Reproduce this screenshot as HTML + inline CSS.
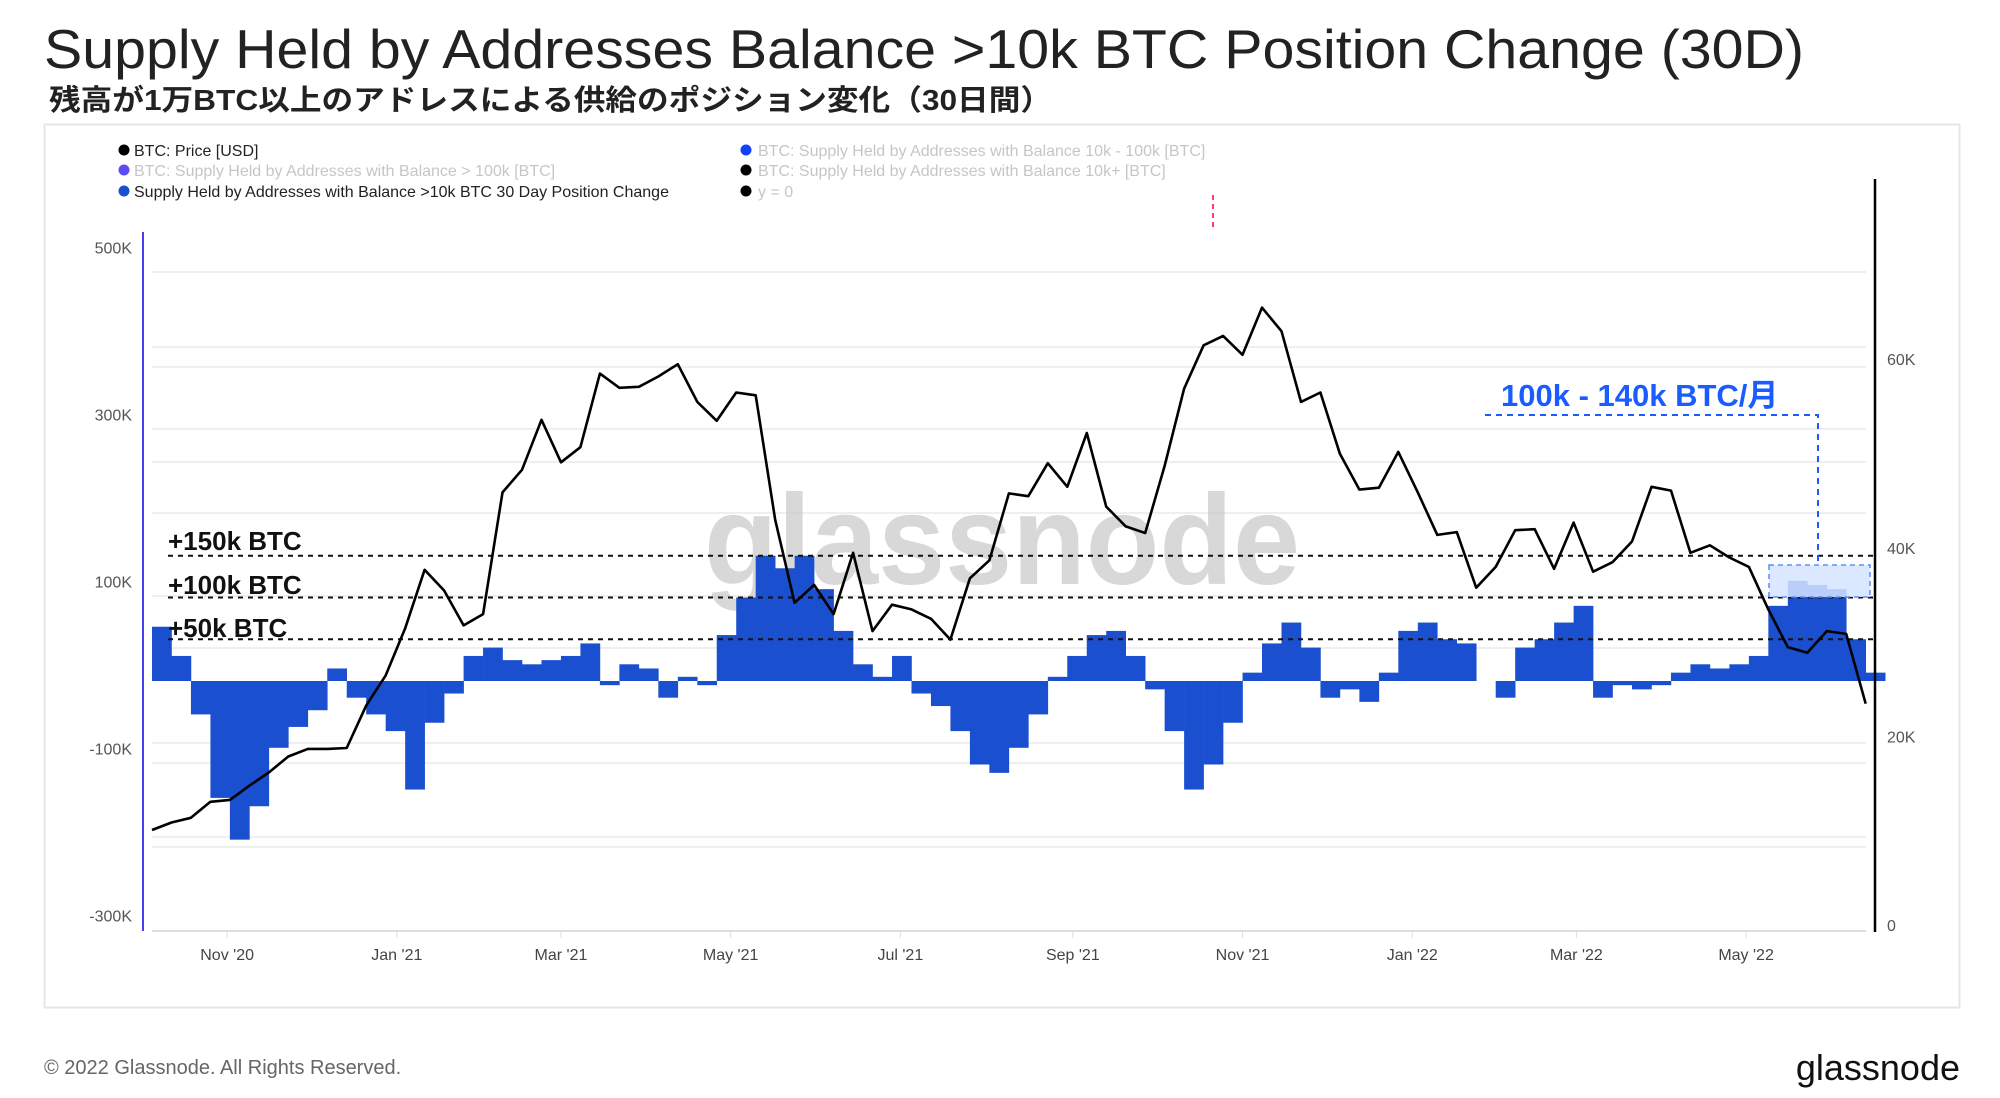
<!DOCTYPE html>
<html>
<head>
<meta charset="utf-8">
<style>
html,body{margin:0;padding:0;background:#fff;}
svg{display:block;}
text{font-family:"Liberation Sans","Noto Sans CJK JP",sans-serif;}
</style>
</head>
<body>
<svg id="chart" width="2000" height="1098" viewBox="0 0 2000 1098" xmlns="http://www.w3.org/2000/svg">
  <text x="44" y="68" font-size="55" fill="#222" textLength="1760" lengthAdjust="spacingAndGlyphs">Supply Held by Addresses Balance &gt;10k BTC Position Change (30D)</text>
  <text x="49" y="110" font-size="29" font-weight="bold" fill="#222" textLength="1003" lengthAdjust="spacingAndGlyphs">残高が1万BTC以上のアドレスによる供給のポジション変化（30日間）</text>
  <rect x="44.5" y="124.5" width="1915" height="883" fill="#fff" stroke="#e6e6e6" stroke-width="2"/>

  <g id="grid"></g>
  <text x="704" y="584" font-size="128" font-weight="bold" fill="#c8c8c8" opacity="0.7" textLength="596" lengthAdjust="spacingAndGlyphs">glassnode</text>
  <g id="bars"></g>
  <g id="refs"></g>
  <path id="price" fill="none" stroke="#000" stroke-width="2.6" stroke-linejoin="round"/>

  <line x1="143" y1="232" x2="143" y2="931" stroke="#4a3cf0" stroke-width="2"/>
  <line x1="1875" y1="179" x2="1875" y2="932" stroke="#000" stroke-width="2.5"/>
  <g id="yl"></g>
  <g id="yr"></g>
  <g id="xa"></g>

  <g font-size="16">
    <g><circle cx="124" cy="150" r="5.5" fill="#000"/><text x="134" y="156" fill="#222">BTC: Price [USD]</text></g>
    <g><circle cx="124" cy="170" r="5.5" fill="#5b4cf5"/><text x="134" y="176" fill="#c6c6c6">BTC: Supply Held by Addresses with Balance &gt; 100k [BTC]</text></g>
    <g><circle cx="124" cy="191" r="5.5" fill="#1a4fd0"/><text x="134" y="197" fill="#222">Supply Held by Addresses with Balance &gt;10k BTC 30 Day Position Change</text></g>
    <g><circle cx="746" cy="150" r="5.5" fill="#1240ff"/><text x="758" y="156" fill="#c6c6c6">BTC: Supply Held by Addresses with Balance 10k - 100k [BTC]</text></g>
    <g><circle cx="746" cy="170" r="5.5" fill="#000"/><text x="758" y="176" fill="#c6c6c6">BTC: Supply Held by Addresses with Balance 10k+ [BTC]</text></g>
    <g><circle cx="746" cy="191" r="5.5" fill="#000"/><text x="758" y="197" fill="#c6c6c6">y = 0</text></g>
  </g>

  <line x1="1213" y1="195" x2="1213" y2="228" stroke="#ff3b7a" stroke-width="2" stroke-dasharray="5,4"/>

  <text x="168" y="550" font-size="26" font-weight="bold" fill="#111">+150k BTC</text>
  <text x="168" y="594" font-size="26" font-weight="bold" fill="#111">+100k BTC</text>
  <text x="168" y="637" font-size="26" font-weight="bold" fill="#111">+50k BTC</text>

  <g>
    <rect x="1769" y="565" width="101" height="32" fill="#d6e4ff" fill-opacity="0.85" stroke="#5b8cff" stroke-dasharray="5,4" stroke-width="1.5"/>
    <text x="1501" y="406" font-size="31" font-weight="bold" fill="#1a5cff">100k - 140k BTC/月</text>
    <polyline points="1485,415 1818,415 1818,565" fill="none" stroke="#1a5cff" stroke-width="2" stroke-dasharray="6,5"/>
  </g>

  <text x="44" y="1074" font-size="20" fill="#666">© 2022 Glassnode. All Rights Reserved.</text>
  <text x="1960" y="1080" font-size="36" fill="#111" text-anchor="end">glassnode</text>
</svg>
<script>
// weekly data starting 2020-10-05
const priceK = [10.6,11.4,11.9,13.6,13.8,15.3,16.7,18.4,19.2,19.2,19.3,23.8,27.0,
32.0,38.2,36.0,32.3,33.5,46.4,48.8,54.1,49.6,51.2,59.0,57.5,57.6,
58.7,60.0,56.0,54.0,57.0,56.7,43.5,34.7,36.6,33.5,40.0,31.7,34.5,
34.0,33.0,30.8,37.3,39.2,46.3,46.0,49.5,47.0,52.7,44.9,42.8,42.1,
49.2,57.4,62.0,63.0,61.0,66.0,63.5,56.0,57.0,50.5,46.7,46.9,50.7,
46.4,41.9,42.2,36.3,38.5,42.4,42.5,38.3,43.2,38.0,39.0,41.2,47.0,46.6,40.0,40.8,39.5,
38.5,34.0,30.0,29.4,31.7,31.4,24.0];
const changeK = [65,30,-40,-140,-190,-150,-80,-55,-35,15,-20,-40,-60,-130,-50,-15,
30,40,25,20,25,30,45,-5,20,15,-20,5,-5,55,100,150,135,150,110,60,20,5,30,
-15,-30,-60,-100,-110,-80,-40,5,30,55,60,30,-10,-60,-130,-100,-50,
10,45,70,40,-20,-10,-25,10,60,70,50,45,0,-20,40,50,70,90,
-20,-5,-10,-5,10,20,15,20,30,90,120,115,110,50,10];
const leftTicks = ["500K","300K","100K","-100K","-300K"];
const leftTickVals = [500,300,100,-100,-300];
const rightTicks = ["60K","40K","20K","0"];
const rightTickVals = [60,40,20,0];
const monthLabels = ["Nov '20","Jan '21","Mar '21","May '21","Jul '21","Sep '21","Nov '21","Jan '22","Mar '22","May '22"];
const monthDays = [27,88,147,208,269,331,392,453,512,573];
const refVals = [150,100,50];

const NS="http://www.w3.org/2000/svg";
function xDay(d){return 152 + d*2.782;}
function yBar(v){return 681 - v*0.835;}
function yPrice(p){return 930 - p*9.43;}
function mk(tag,attrs,parent){const e=document.createElementNS(NS,tag);for(const k in attrs)e.setAttribute(k,attrs[k]);parent.appendChild(e);return e;}

const grid=document.getElementById('grid');
[272,347,367,429,462,513,596,648,743,763,837,847].forEach(y=>{
  const l=mk('line',{x1:152,x2:1866,y1:y,y2:y,stroke:'#efefef','stroke-width':2},grid);
  
  
});
mk('line',{x1:152,x2:1866,y1:931,y2:931,stroke:'#ddd','stroke-width':2},grid);

const bars=document.getElementById('bars');
changeK.forEach((v,i)=>{
  const x0=xDay(i*7), x1=xDay((i+1)*7);
  const y=Math.min(yBar(v),yBar(0)), h=Math.abs(yBar(v)-yBar(0));
  const r=mk('rect',{x:x0,y:y,width:x1-x0+0.3,height:h,fill:'#1a4fd0'},bars);
  
  
});

const refs=document.getElementById('refs');
refVals.forEach(v=>{
  const l=mk('line',{x1:168,x2:1875,y1:yBar(v),y2:yBar(v),stroke:'#111','stroke-width':2,'stroke-dasharray':'5,5'},refs);
  
  
});

let d='';
priceK.forEach((p,i)=>{d+=(i?'L':'M')+xDay(i*7).toFixed(1)+','+yPrice(p).toFixed(1);});
document.getElementById('price').setAttribute('d',d);

const yl=document.getElementById('yl');
leftTicks.forEach((t,i)=>{
  const e=mk('text',{x:132,y:yBar(leftTickVals[i])-10,'font-size':16,fill:'#555','text-anchor':'end'},yl);
  e.textContent=t;
  
  
});
const yr=document.getElementById('yr');
rightTicks.forEach((t,i)=>{
  const e=mk('text',{x:1887,y:yPrice(rightTickVals[i])+1,'font-size':16,fill:'#555'},yr);
  e.textContent=t;
  
  
});
const xa=document.getElementById('xa');
monthLabels.forEach((t,i)=>{
  const x=xDay(monthDays[i]);
  mk('line',{x1:x,x2:x,y1:931,y2:938,stroke:'#ddd','stroke-width':1},xa);
  const e=mk('text',{x:x,y:960,'font-size':16,fill:'#444','text-anchor':'middle'},xa);
  e.textContent=t;
  
  
});
</script>
</body>
</html>
